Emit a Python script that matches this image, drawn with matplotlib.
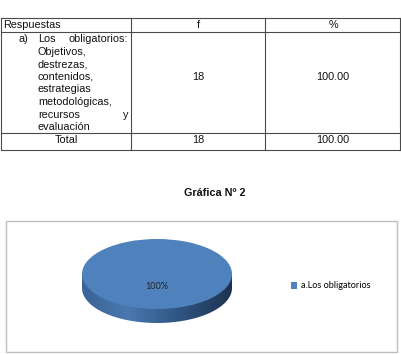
import matplotlib.pyplot as plt
import numpy as np
from matplotlib.path import Path
from matplotlib.colors import LinearSegmentedColormap

# table content
headers = ['Respuestas', 'f', '%']
row_label = 'a)'
row_lines = [['Los', 'obligatorios:'], ['Objetivos,'], ['destrezas,'], ['contenidos,'],
             ['estrategias'], ['metodológicas,'], ['recursos', 'y'], ['evaluación']]
row_f = 18
row_pct = 100.00
total_label = 'Total'
total_f = 18
total_pct = 100.00

# chart content
title = 'Gráfica Nº 2'
categories = ['a.Los obligatorios']
values = [18]
pie_color = '#4F81BD'

W, H = 402, 354
fig = plt.figure(figsize=(W / 100, H / 100), dpi=100)
bg = fig.add_axes([0, 0, 1, 1])
bg.set_xlim(0, W)
bg.set_ylim(H, 0)
bg.axis('off')

tfont = dict(family='Liberation Sans', size=7.8, color='#111111')
lc = '#4a4a4a'

# table grid
ys = [18, 32, 133, 150]
xs = [1, 131, 265, 400]
for y in ys:
    bg.plot([xs[0], xs[-1]], [y, y], color=lc, lw=0.8)
for x in xs:
    bg.plot([x, x], [ys[0], ys[-1]], color=lc, lw=0.8)

bg.text(3, 25, headers[0], ha='left', va='center', **tfont)
bg.text(198, 25, headers[1], ha='center', va='center', **tfont)
bg.text(333, 25, headers[2], ha='center', va='center', **tfont)

bg.text(19, 39, row_label, ha='left', va='center', **tfont)
for i, words in enumerate(row_lines):
    y = 39 + i * 12.6
    bg.text(38, y, words[0], ha='left', va='center', **tfont)
    if len(words) > 1:
        bg.text(128, y, words[-1], ha='right', va='center', **tfont)
bg.text(198, 77, str(row_f), ha='center', va='center', **tfont)
bg.text(333, 77, f'{row_pct:.2f}', ha='center', va='center', **tfont)

bg.text(66, 140, total_label, ha='center', va='center', **tfont)
bg.text(198, 140, str(total_f), ha='center', va='center', **tfont)
bg.text(333, 140, f'{total_pct:.2f}', ha='center', va='center', **tfont)

# title
bg.text(215, 193, title, ha='center', va='center', family='Liberation Sans',
        size=7.8, weight='bold', color='#111111')

# chart frame
bg.add_patch(plt.Rectangle((6, 221), 391, 131, fill=False, ec='#bfbfbf', lw=1))

# pie axes (pixel box 82..232 x 239..323)
t = 0.4
px0, px1, py0, py1 = 82, 232, 239, 323
ax = fig.add_axes([px0 / W, 1 - py1 / H, (px1 - px0) / W, (py1 - py0) / H])

# side of the 3d disc, gradient clipped to the band
th = np.linspace(np.pi, 2 * np.pi, 100)
verts = [(-1, 0), (-1, -t)] + list(zip(np.cos(th), -t + np.sin(th))) + [(1, -t), (1, 0), (-1, 0)]
side = Path(verts)
cmap = LinearSegmentedColormap.from_list('side', [(0, '#3a6396'), (0.3, '#4a78b0'),
                                                  (0.65, '#2f5582'), (1, '#1c3350')])
grad = np.linspace(0, 1, 256).reshape(1, -1)
im = ax.imshow(grad, cmap=cmap, extent=[-1, 1, -1 - t, 0], aspect='auto', zorder=1)
im.set_clip_path(side, transform=ax.transData)

wedges, _, autotexts = ax.pie(values, colors=[pie_color], startangle=90, radius=1,
                              autopct='%1.0f%%', pctdistance=0.37,
                              wedgeprops=dict(linewidth=0))
for w in wedges:
    w.set_zorder(2)
for a in autotexts:
    a.set_family('Lato')
    a.set_fontsize(6.6)
    a.set_color('#262626')
    a.set_zorder(3)
ax.set_aspect('auto')
ax.set_xlim(-1, 1)
ax.set_ylim(-1 - t, 1)
ax.axis('off')

fig.legend(wedges, categories, loc='center left', bbox_to_anchor=(291 / W, 1 - 286 / H),
           frameon=False, prop=dict(family='Lato', size=6.6), handlelength=0.7,
           handleheight=0.7, handletextpad=0.4, borderpad=0, borderaxespad=0)

fig.savefig('out.png', dpi=100)
